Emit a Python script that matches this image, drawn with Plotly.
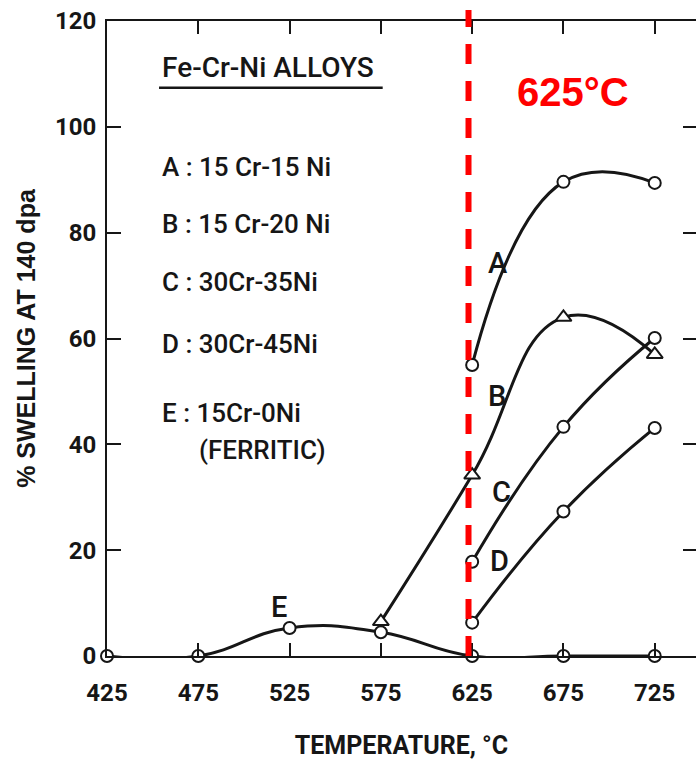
import plotly.graph_objects as go

# ---- data ----
temps_E = [425, 475, 525, 575, 625, 675, 725]
swell_E = [0, 0, 5.3, 4.5, 0, 0, 0]

temps_A = [625, 675, 725]
swell_A = [55, 89.6, 89.4]

temps_B = [575, 625, 675, 725]
swell_B = [6.5, 34.2, 64, 57]

temps_C = [625, 675, 725]
swell_C = [17.8, 43.3, 60.1]

temps_D = [625, 675, 725]
swell_D = [6.3, 27.3, 43.1]

x_ticks = [425, 475, 525, 575, 625, 675, 725]
y_ticks = [0, 20, 40, 60, 80, 100, 120]
threshold_temp = 623
threshold_label = "625°C"

legend_title = "Fe-Cr-Ni ALLOYS"
legend_lines = ["A : 15 Cr-15 Ni", "B : 15 Cr-20 Ni", "C : 30Cr-35Ni",
                "D : 30Cr-45Ni", "E : 15Cr-0Ni"]
legend_extra = "(FERRITIC)"

ROBOTO = "Roboto, Liberation Sans, DejaVu Sans, sans-serif"
SANS = "Liberation Sans, Arial, DejaVu Sans, sans-serif"
INK = "#161616"

fig = go.Figure()

def add_series(x, y, symbol, msize, name):
    fig.add_trace(go.Scatter(
        x=x, y=y, mode="lines+markers", name=name,
        line=dict(color=INK, width=3, shape="spline", smoothing=1.3),
        marker=dict(symbol=symbol, size=msize, color="white",
                    line=dict(color=INK, width=2)),
        cliponaxis=False, showlegend=False))

add_series(temps_E, swell_E, "circle", 12, "E")
add_series(temps_A, swell_A, "circle", 12, "A")
add_series(temps_C, swell_C, "circle", 12, "C")
add_series(temps_D, swell_D, "circle", 12, "D")
add_series(temps_B, swell_B, "triangle-up", 14, "B")

# dummy trace on right axis for right-side ticks
fig.add_trace(go.Scatter(x=[None], y=[None], yaxis="y2", showlegend=False))

tickfont = dict(family=ROBOTO, size=24, color=INK, weight="bold")

fig.update_layout(
    width=696, height=764,
    margin=dict(l=107, r=0, t=21, b=108),
    paper_bgcolor="white", plot_bgcolor="white",
    xaxis=dict(range=[425, 747.6], tickvals=x_ticks, ticks="inside", ticklen=13,
               tickwidth=2, tickcolor=INK, showline=True, linewidth=2, linecolor=INK,
               mirror="ticks", showgrid=False, zeroline=False,
               tickfont=tickfont, ticklabelstandoff=14,
               title=dict(text="TEMPERATURE, °C", standoff=31,
                          font=dict(family=ROBOTO, size=25, color=INK, weight="bold"))),
    yaxis=dict(range=[0, 120], tickvals=y_ticks, ticks="inside", ticklen=14,
               tickwidth=2, tickcolor=INK, showline=True, linewidth=2, linecolor=INK,
               showgrid=False, zeroline=False, tickfont=tickfont, ticklabelstandoff=4,
               title=dict(text="% SWELLING AT 140 dpa", standoff=12,
                          font=dict(family=SANS, size=25, color=INK, weight="bold"))),
    yaxis2=dict(range=[0, 120], tickvals=y_ticks, overlaying="y", side="right",
                ticks="inside", ticklen=13, tickwidth=2, tickcolor=INK,
                showticklabels=False, showline=False, showgrid=False, zeroline=False),
)

# curve labels
for txt, xx, yy in [("A", 639, 74.3), ("B", 638.6, 49.1), ("C", 641.3, 31.0),
                    ("D", 639.7, 18.0), ("E", 519.2, 9.3)]:
    fig.add_annotation(x=xx, y=yy, text=txt, showarrow=False,
                       font=dict(family=ROBOTO, size=29, color=INK, weight=500))

# legend block
fig.add_annotation(x=454, y=111.2, text=legend_title, xanchor="left", showarrow=False,
                   font=dict(family=ROBOTO, size=28, color=INK, weight=500))
fig.add_shape(type="line", x0=453.5, x1=576, y0=107.4, y1=107.4,
              line=dict(color=INK, width=2.5))
for txt, yy in zip(legend_lines, [92.4, 81.7, 70.7, 59.0, 45.9]):
    fig.add_annotation(x=454, y=yy, text=txt, xanchor="left", showarrow=False,
                       font=dict(family=ROBOTO, size=26, color=INK, weight=500))
fig.add_annotation(x=474.3, y=38.9, text=legend_extra, xanchor="left", showarrow=False,
                   font=dict(family=ROBOTO, size=26, color=INK, weight=500))

# 625°C threshold
fig.add_shape(type="line", xref="x", yref="paper", x0=threshold_temp, x1=threshold_temp,
              y0=0, y1=1.0173, layer="above",
              line=dict(color="#ff0000", width=6, dash="20px,17px"))
fig.add_annotation(x=680.2, y=106.6, text=threshold_label, showarrow=False,
                   font=dict(family=SANS, size=40, color="#ff0000", weight="bold"))

fig.write_html("out.html")
